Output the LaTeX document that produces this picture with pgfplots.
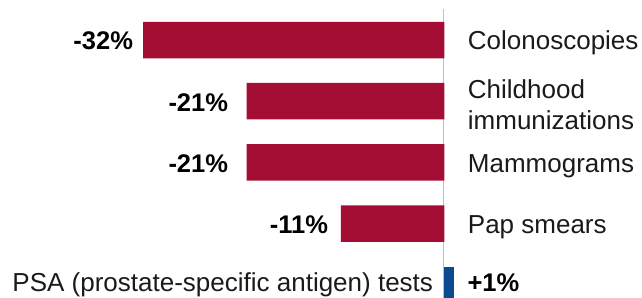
\documentclass[border=0pt]{standalone}
\usepackage{pgfplots}
\pgfplotsset{compat=1.18}
\usepackage{fontspec}
\setmainfont{Liberation Sans}
\definecolor{barred}{HTML}{A50E34}
\definecolor{barblue}{HTML}{0B4A8E}
\definecolor{zerogray}{HTML}{C0C0C0}
\definecolor{txt}{HTML}{1A1A1A}
\tikzset{
  cat/.style={inner sep=0pt, outer sep=0pt, font=\fontsize{26}{30}\selectfont, text=txt},
  val/.style={inner sep=0pt, outer sep=0pt, font=\fontsize{25.5}{30}\selectfont\bfseries, text=black},
}
\begin{document}
\begin{tikzpicture}
\begin{axis}[
  name=ax, at={(0,0)}, anchor=south west,
  width=642pt, height=297pt, scale only axis,
  xmin=-47.19, xmax=20.97, ymin=-0.654, ymax=4.199, y dir=reverse,
  hide axis, xbar, bar shift=0pt, bar width=36.5pt,
  clip=true,
]
\draw[zerogray, line width=1.5pt] (axis cs:-0.12,-0.507) -- (axis cs:-0.12,4.4);
\addplot[fill=barred, draw=none] coordinates {(-32,0) (-21,1) (-21,2) (-11,3)};
\addplot[fill=barblue, draw=none] coordinates {(1,4)};
% value labels
\node[val, anchor=base east] at (axis cs:-33.07,0.147) {-32\%};
\node[val, anchor=base east] at (axis cs:-22.98,1.168) {-21\%};
\node[val, anchor=base east] at (axis cs:-22.98,2.165) {-21\%};
\node[val, anchor=base east] at (axis cs:-12.37,3.162) {-11\%};
\node[val, anchor=base west] at (axis cs:2.45,4.101) {+1\%};
% category labels
\node[cat, anchor=base west] at (axis cs:2.49,0.147) {Colonoscopies};
\node[cat, anchor=base west] at (axis cs:2.49,0.948) {Childhood};
\node[cat, anchor=base west] at (axis cs:2.49,1.454) {immunizations};
\node[cat, anchor=base west] at (axis cs:2.49,2.165) {Mammograms};
\node[cat, anchor=base west] at (axis cs:2.49,3.162) {Pap smears};
\node[cat, anchor=base east] at (axis cs:-1.22,4.101) {PSA (prostate-specific antigen) tests};
\end{axis}
\pgfresetboundingbox
\path[use as bounding box] (ax.south west) rectangle (ax.north east);
\end{tikzpicture}
\end{document}
